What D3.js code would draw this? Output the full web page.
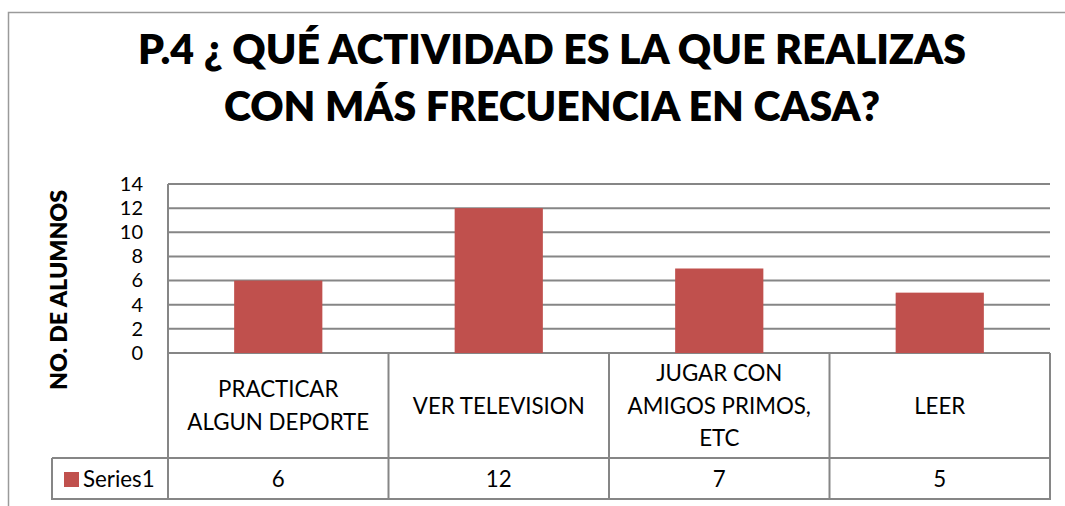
<!DOCTYPE html>
<html>
<head>
<meta charset="utf-8">
<script src="https://cdn.jsdelivr.net/npm/d3@7"></script>
<style>
  body { margin: 0; background: #fff; }
  svg { display: block; font-family: Lato, "Open Sans", sans-serif; }
</style>
</head>
<body>
<svg id="chart" width="1065" height="506"></svg>
<script>
// Chart data
const categories = ["PRACTICAR ALGUN DEPORTE", "VER TELEVISION", "JUGAR CON AMIGOS PRIMOS, ETC", "LEER"];
const values = [6, 12, 7, 5];
const seriesName = "Series1";
const yTicks = [0, 2, 4, 6, 8, 10, 12, 14];
const titleLines = ["P.4 ¿ QUÉ ACTIVIDAD ES LA QUE REALIZAS", "CON MÁS FRECUENCIA EN CASA?"];
const yLabel = "NO. DE ALUMNOS";

const svg = d3.select("#chart");

// Display settings
const barColor = "#C0504D";
const lineColor = "#868686";
const plotLeft = 168, plotRight = 1050, plotTop = 184, plotBottom = 353;
const catRowBottom = 458, valRowBottom = 499, legendLeft = 52;
const catFont = 22.3, lineGap = 32.5, maxLabelWidth = 192;

// Outer chart border
svg.append("rect")
  .attr("x", 8.5).attr("y", 12.5)
  .attr("width", 1100).attr("height", 600)
  .attr("fill", "none")
  .attr("stroke", "#9a9a9a")
  .attr("stroke-width", 1.5);

// Title: tall bold letters squeezed to the reference line widths
const titleWidths = [828, 656];
const titleBaselines = [64, 121];
titleLines.forEach((t, i) => {
  svg.append("text")
    .attr("x", 552).attr("y", titleBaselines[i])
    .attr("text-anchor", "middle")
    .attr("textLength", titleWidths[i])
    .attr("lengthAdjust", "spacingAndGlyphs")
    .style("font-weight", 800)
    .style("font-size", "42px")
    .attr("fill", "#000")
    .text(t);
});

// Scales
const x = d3.scaleBand()
  .domain(categories)
  .range([plotLeft, plotRight])
  .paddingInner(0.6)
  .paddingOuter(0.3);

const xCell = d3.scaleBand()
  .domain(categories)
  .range([plotLeft, plotRight]);

const y = d3.scaleLinear()
  .domain([0, 14])
  .range([plotBottom, plotTop]);

// Gridlines
svg.append("g")
  .selectAll("line")
  .data(yTicks)
  .join("line")
  .attr("x1", plotLeft).attr("x2", plotRight)
  .attr("y1", d => y(d)).attr("y2", d => y(d))
  .attr("stroke", lineColor)
  .attr("stroke-width", 2);

// Y axis labels (no tick marks, no domain line)
const yAxis = svg.append("g")
  .attr("transform", `translate(${plotLeft}, 0)`)
  .call(d3.axisLeft(y).tickValues(yTicks).tickSize(0).tickPadding(25));
yAxis.select(".domain").remove();
yAxis.selectAll("text")
  .style("font-family", "Lato, sans-serif")
  .style("font-size", "20px")
  .attr("fill", "#000");

// Bars
svg.append("g")
  .selectAll("rect")
  .data(values)
  .join("rect")
  .attr("x", (d, i) => x(categories[i]))
  .attr("y", d => y(d))
  .attr("width", x.bandwidth())
  .attr("height", d => y(0) - y(d))
  .attr("fill", barColor);

// Y axis title
svg.append("text")
  .attr("transform", "translate(67, 290) rotate(-90)")
  .attr("text-anchor", "middle")
  .attr("textLength", 200)
  .attr("lengthAdjust", "spacingAndGlyphs")
  .style("font-weight", 800)
  .style("font-size", "23px")
  .attr("fill", "#000")
  .text(yLabel);

// Data table lines
const table = svg.append("g")
  .attr("stroke", lineColor)
  .attr("stroke-width", 2)
  .attr("fill", "none");

// vertical axis line from top of plot down through the table
table.append("line")
  .attr("x1", plotLeft).attr("x2", plotLeft)
  .attr("y1", plotTop).attr("y2", valRowBottom + 1);

// column separators in the table
table.selectAll(".col")
  .data(categories)
  .join("line")
  .attr("class", "col")
  .attr("x1", d => xCell(d) + xCell.bandwidth())
  .attr("x2", d => xCell(d) + xCell.bandwidth())
  .attr("y1", plotBottom).attr("y2", valRowBottom + 1);

// horizontal rows
table.append("line")
  .attr("x1", legendLeft).attr("x2", plotRight + 1)
  .attr("y1", catRowBottom).attr("y2", catRowBottom);
table.append("line")
  .attr("x1", legendLeft - 1).attr("x2", plotRight + 1)
  .attr("y1", valRowBottom).attr("y2", valRowBottom);
table.append("line")
  .attr("x1", legendLeft).attr("x2", legendLeft)
  .attr("y1", catRowBottom).attr("y2", valRowBottom);

// Category labels, wrapped into the cell
categories.forEach(c => {
  const cx = xCell(c) + xCell.bandwidth() / 2;
  const t = svg.append("text")
    .attr("text-anchor", "middle")
    .style("font-size", catFont + "px")
    .attr("fill", "#000");
  const words = c.split(" ");
  const lines = [];
  let line = [];
  let tspan = t.append("tspan").attr("x", cx);
  words.forEach(w => {
    line.push(w);
    tspan.text(line.join(" "));
    if (tspan.node().getComputedTextLength() > maxLabelWidth && line.length > 1) {
      line.pop();
      lines.push(line.join(" "));
      line = [w];
      tspan.text(w);
    }
  });
  lines.push(line.join(" "));
  t.selectAll("tspan").remove();
  const mid = (plotBottom + catRowBottom) / 2 + 8;
  lines.forEach((l, k) => {
    t.append("tspan")
      .attr("x", cx)
      .attr("y", mid + (k - (lines.length - 1) / 2) * lineGap)
      .text(l);
  });
});

// Value row
svg.append("g")
  .selectAll("text")
  .data(values)
  .join("text")
  .attr("x", (d, i) => xCell(categories[i]) + xCell.bandwidth() / 2)
  .attr("y", 487)
  .attr("text-anchor", "middle")
  .style("font-size", catFont + "px")
  .attr("fill", "#000")
  .text(d => d);

// Legend key in the table
svg.append("rect")
  .attr("x", 64).attr("y", 472)
  .attr("width", 15).attr("height", 15)
  .attr("fill", barColor);
svg.append("text")
  .attr("x", 83).attr("y", 487)
  .style("font-size", catFont + "px")
  .attr("fill", "#000")
  .text(seriesName);
</script>
</body>
</html>
